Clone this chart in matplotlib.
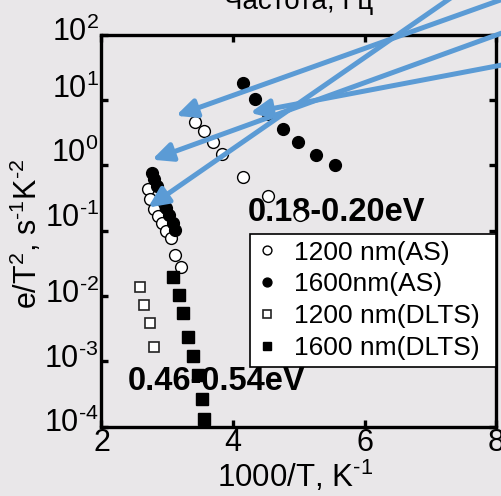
import matplotlib
matplotlib.use("Agg")
import matplotlib.pyplot as plt
from matplotlib.ticker import FixedLocator, FixedFormatter
from matplotlib.transforms import ScaledTranslation

plt.rcParams['font.family'] = ['Liberation Sans', 'DejaVu Sans']
plt.rcParams['mathtext.fontset'] = 'custom'
plt.rcParams['mathtext.rm'] = 'Liberation Sans'
plt.rcParams['mathtext.it'] = 'Liberation Sans:italic'
plt.rcParams['mathtext.bf'] = 'Liberation Sans:bold'

# Admittance spectroscopy (AS), 1200 nm excitation
as1200_x = [3.42, 3.56, 3.70, 3.83, 4.15, 4.53, 5.02,
            2.71, 2.74, 2.80, 2.86, 2.92, 2.98, 3.05, 3.12, 3.21]
as1200_y = [4.6, 3.3, 2.3, 1.5, 0.66, 0.34, 0.17,
            0.43, 0.30, 0.215, 0.169, 0.128, 0.097, 0.076, 0.042, 0.0275]

# Admittance spectroscopy (AS), 1600 nm excitation
as1600_x = [4.15, 4.33, 4.53, 4.76, 4.98, 5.26, 5.55,
            2.76, 2.80, 2.85, 2.95, 2.98, 3.03, 3.08, 3.12]
as1600_y = [18.0, 10.3, 6.1, 3.6, 2.3, 1.42, 1.0,
            0.75, 0.61, 0.48, 0.285, 0.223, 0.175, 0.132, 0.103]

# DLTS, 1200 nm excitation
dlts1200_x = [2.59, 2.65, 2.73, 2.80]
dlts1200_y = [0.0137, 0.0073, 0.0039, 0.00163]

# DLTS, 1600 nm excitation
dlts1600_x = [3.08, 3.17, 3.24, 3.32, 3.39, 3.47, 3.53, 3.56]
dlts1600_y = [0.0194, 0.0104, 0.0055, 0.00231, 0.00119, 0.000614, 0.000265, 0.000132]

series_labels = ['1200 nm(AS)', '1600nm(AS)', '1200 nm(DLTS)', '1600 nm(DLTS)']

x_ticks = [2, 4, 6, 8]
y_ticks = [1e-4, 1e-3, 1e-2, 1e-1, 1e0, 1e1, 1e2]
y_tick_labels = [r'10$^{\text{-4}}$', r'10$^{\text{-3}}$', r'10$^{\text{-2}}$',
                 r'10$^{\text{-1}}$', r'10$^{0}$', r'10$^{1}$', r'10$^{2}$']
# upward shift of each y tick label, in pixels
y_label_shift = [6.5, 5, 5, 16, 15, 14, 5.5]

energy_labels = ['0.18-0.20eV', '0.46-0.54eV']

# arrows: (tail, head) in data coordinates
arrows = [((8.51, 10 ** 2.69), (3.13, 10 ** 0.756)),
          ((8.51, 10 ** 1.615), (4.257, 10 ** 0.802)),
          ((8.51, 10 ** 2.179), (2.767, 10 ** 0.084)),
          ((7.586, 10 ** 2.756), (2.707, 10 ** -0.649))]

bg = '#e9e7e9'
fig = plt.figure(figsize=(5.02, 4.96), dpi=100, facecolor=bg)
ax = fig.add_axes([101.5 / 502, 1 - 426.5 / 496, 395 / 502, 392 / 496])
ax.set_facecolor(bg)
ax.set_yscale('log')
ax.set_xlim(2, 8)
ax.set_ylim(1e-4, 1e2)

ax.plot(as1200_x, as1200_y, 'o', ls='none', mfc='white', mec='black', mew=1.0, ms=8.5,
        label=series_labels[0], zorder=3)
ax.plot(as1600_x, as1600_y, 'o', ls='none', mfc='black', mec='black', ms=8.5,
        label=series_labels[1], zorder=3)
ax.plot(dlts1200_x, dlts1200_y, 's', ls='none', mfc='white', mec='#222222', mew=1.2, ms=7.5,
        label=series_labels[2], zorder=3)
ax.plot(dlts1600_x, dlts1600_y, 's', ls='none', mfc='black', mec='black', ms=8.5,
        label=series_labels[3], zorder=3)

for sp in ax.spines.values():
    sp.set_linewidth(2.4)
ax.xaxis.set_major_locator(FixedLocator(x_ticks))
ax.yaxis.set_major_locator(FixedLocator(y_ticks))
ax.yaxis.set_major_formatter(FixedFormatter(y_tick_labels))
ax.yaxis.set_minor_locator(FixedLocator([]))
ax.tick_params(which='major', direction='in', length=5, width=2.4,
               top=True, right=True, labelsize=22, pad=2)
ax.tick_params(axis='x', pad=1)

for tick, shift in zip(ax.yaxis.get_major_ticks(), y_label_shift):
    lbl = tick.label1
    lbl.set_transform(lbl.get_transform() + ScaledTranslation(0, shift / 100, fig.dpi_scale_trans))

ax.set_xlabel(r'1000/T, K$^{\text{-1}}$', fontsize=22.5)
ax.set_ylabel(r'e/T$^{2}$, s$^{\text{-1}}$K$^{\text{-2}}$', fontsize=22)
ax.xaxis.set_label_coords(0.49, -0.083)
ax.yaxis.set_label_coords(-0.145, 0.49)

ax.text(0.371, 0.545, energy_labels[0], transform=ax.transAxes, fontsize=23.5,
        fontweight='bold', ha='left', va='center', zorder=1)
ax.text(0.067, 0.116, energy_labels[1], transform=ax.transAxes, fontsize=23.5,
        fontweight='bold', ha='left', va='center', zorder=1)

leg = ax.legend(loc='lower left', bbox_to_anchor=(0.376, 0.152, 0.624, 0.342),
                mode='expand', borderaxespad=0, fontsize=19, markerscale=0.75,
                handlelength=0.8, handletextpad=0.6, labelspacing=0.3,
                borderpad=0.25, fancybox=False, framealpha=1, edgecolor='black')
leg.get_frame().set_linewidth(1.2)
leg.set_zorder(6)

fig.text(299 / 502, 1 - 9 / 496, 'Частота, Гц', fontsize=20, ha='center', va='baseline')

for tail, head in arrows:
    ax.annotate('', xy=head, xytext=tail, xycoords='data', textcoords='data',
                annotation_clip=False, zorder=8,
                arrowprops=dict(arrowstyle='-|>,head_length=0.6,head_width=0.28',
                                mutation_scale=20, lw=3.6, color='#5b9bd5',
                                shrinkA=0, shrinkB=0))

fig.savefig('out.png', dpi=100, facecolor=bg)
